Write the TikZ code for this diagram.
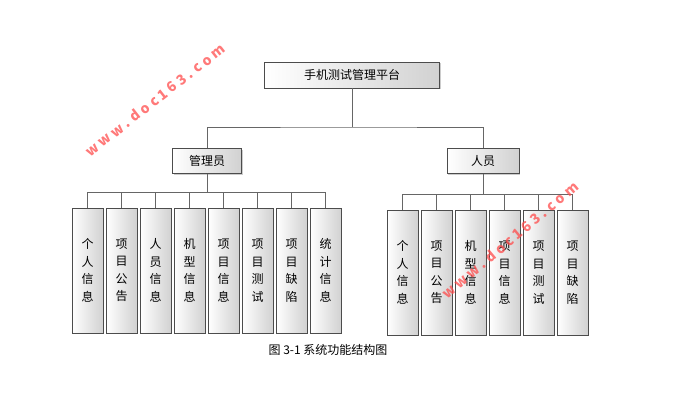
\documentclass[tikz,border=0pt]{standalone}
\usepackage{fontspec}
\setmainfont{Noto Sans CJK SC}
\usetikzlibrary{shadows}
\begin{document}
\begin{tikzpicture}[x=1pt,y=-1pt,
 bx/.style={draw=black!70,line width=0.8pt,left color=white,right color=black!18,drop shadow={shadow xshift=1.2pt,shadow yshift=-1.2pt,opacity=0.4},inner sep=0pt,font=\fontsize{12}{14}\selectfont},
 vb/.style={bx,minimum width=31pt,minimum height=125pt,align=center,font=\fontsize{12}{17.5}\selectfont},
 ln/.style={draw=black!60,line width=0.8pt},
 wm/.style={text=red!70,opacity=0.75,font=\fontsize{14}{14}\selectfont\bfseries}]
\useasboundingbox (0,0) rectangle (687,407);
\node[bx,minimum width=175pt,minimum height=26pt] (top) at (352,75) {手机测试管理平台};
\node[bx,minimum width=69pt,minimum height=25pt] (adm) at (207,161) {管理员};
\node[bx,minimum width=72pt,minimum height=25pt] (usr) at (483,161) {人员};
\coordinate (j) at (352,127);
\draw[ln] (top.south) -- (j);
\draw[ln] (adm.north) |- (j) -| (usr.north);
\foreach \t [count=\i from 0] in {个\\人\\信\\息,项\\目\\公\\告,人\\员\\信\\息,机\\型\\信\\息,项\\目\\信\\息,项\\目\\测\\试,项\\目\\缺\\陷,统\\计\\信\\息}{
 \node[vb] (a\i) at (87.5+34*\i,270.5) {\t};
 \draw[ln] (adm.south) -- (207,192) -| (a\i.north);
}
\foreach \t [count=\i from 0] in {个\\人\\信\\息,项\\目\\公\\告,机\\型\\信\\息,项\\目\\信\\息,项\\目\\测\\试,项\\目\\缺\\陷}{
 \node[vb] (b\i) at (402.5+34*\i,272.5) {\t};
 \draw[ln] (usr.south) -- (483,194) -| (b\i.north);
}
\node[font=\fontsize{12}{14}\selectfont] (cap) at (328,350) {图 3-1 系统功能结构图};
\node[wm,rotate=38] (w1) at (155,100) {w w w . d o c 1 6 3 . c o m};
\node[wm,rotate=40] (w2) at (510,240) {w w w . d o c 1 6 3 . c o m};
\end{tikzpicture}
\end{document}
